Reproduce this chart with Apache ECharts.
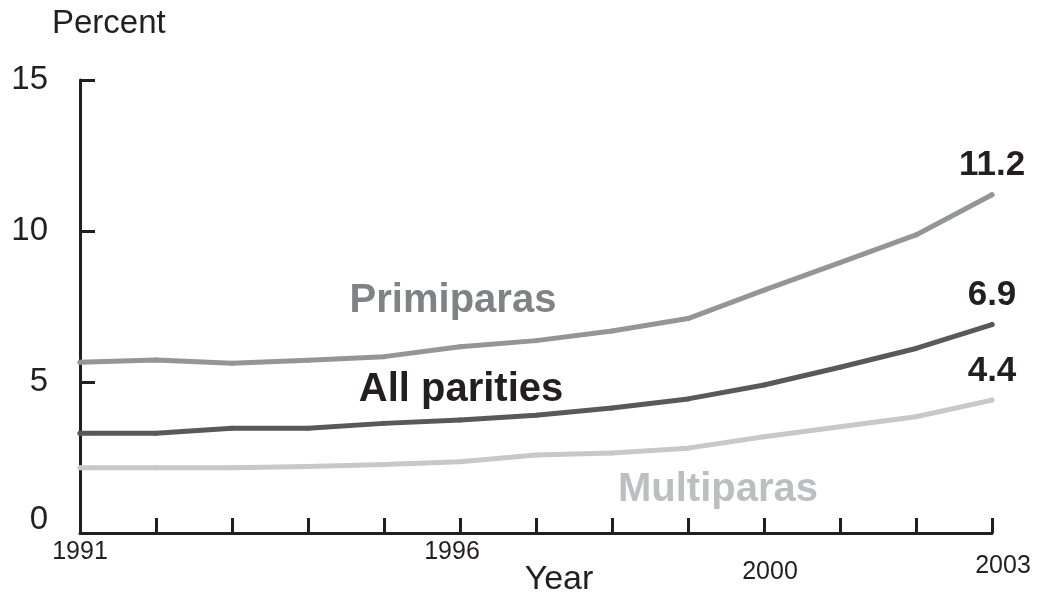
<!DOCTYPE html>
<html>
<head>
<meta charset="utf-8">
<script src="https://cdn.jsdelivr.net/npm/echarts@6/dist/echarts.min.js"></script>
<style>
  html, body { margin: 0; padding: 0; background: #fff; }
  #chart { width: 1053px; height: 598px; }
</style>
</head>
<body>
<div id="chart"></div>
<script>
const years = ["1991", "1992", "1993", "1994", "1995", "1996", "1997", "1998", "1999", "2000", "2001", "2002", "2003"];
const shownYears = ["1991", "1996", "2000", "2003"];
const primiparas = [5.65, 5.73, 5.62, 5.72, 5.84, 6.17, 6.37, 6.69, 7.1, 8.04, 8.95, 9.87, 11.2];
const allParities = [3.3, 3.3, 3.47, 3.47, 3.63, 3.74, 3.9, 4.14, 4.44, 4.9, 5.49, 6.11, 6.9];
const multiparas = [2.16, 2.16, 2.16, 2.2, 2.27, 2.36, 2.58, 2.65, 2.81, 3.19, 3.52, 3.85, 4.4];

const FONT = "Liberation Sans, Arial, Helvetica, sans-serif";
const INK = "#231f20";

// only the last point shows its value, bold, above the line end
function endLabel() {
  return {
    show: true,
    position: "top",
    distance: 9,
    fontFamily: FONT,
    fontSize: 35,
    fontWeight: "bold",
    color: INK,
    formatter: p => (p.dataIndex === years.length - 1 ? String(p.value) : "")
  };
}

function lineSeries(name, data, color) {
  return {
    name: name,
    type: "line",
    data: data,
    symbol: "circle",
    symbolSize: 5,
    itemStyle: { color: color },
    lineStyle: { color: color, width: 5, cap: "round", join: "round" },
    label: endLabel()
  };
}

var myChart = echarts.init(document.getElementById("chart"));

myChart.setOption({
  animation: false,
  grid: { left: 80, right: 61, top: 80, bottom: 65 },
  xAxis: {
    type: "category",
    data: years,
    boundaryGap: false,
    axisLine: { lineStyle: { color: INK, width: 3 } },
    axisTick: { inside: true, length: 15, lineStyle: { color: INK, width: 3 }, interval: 0 },
    axisLabel: {
      interval: (idx, val) => shownYears.indexOf(val) >= 0,
      margin: 7,
      fontFamily: FONT,
      fontSize: 25,
      color: INK,
      formatter: function (val) {
        if (val === "1996") return "{a|" + val + "}";
        if (val === "2000") return "{b|" + val + "}";
        if (val === "2003") return "{c|" + val + "}";
        return val;
      },
      rich: {
        a: { fontFamily: FONT, fontSize: 25, color: INK, padding: [0, 16, 0, 0] },
        b: { fontFamily: FONT, fontSize: 25, color: INK, padding: [20, 0, 0, 12] },
        c: { fontFamily: FONT, fontSize: 25, color: INK, padding: [14, 0, 0, 22] }
      }
    },
    splitLine: { show: false }
  },
  yAxis: {
    type: "value",
    min: 0,
    max: 15,
    interval: 5,
    axisLine: { show: true, lineStyle: { color: INK, width: 3 } },
    axisTick: { show: true, inside: true, length: 15, lineStyle: { color: INK, width: 3 } },
    axisLabel: {
      margin: 32,
      fontFamily: FONT,
      fontSize: 33,
      color: INK,
      formatter: function (v) { return v === 0 ? "{z|0}" : String(v); },
      rich: { z: { fontFamily: FONT, fontSize: 33, color: INK, padding: [0, 0, 26, 0] } }
    },
    splitLine: { show: false }
  },
  series: [
    lineSeries("Primiparas", primiparas, "#939598"),
    lineSeries("All parities", allParities, "#58595b"),
    lineSeries("Multiparas", multiparas, "#c7c8ca")
  ],
  graphic: [
    { type: "text", left: 52, top: 7,
      style: { text: "Percent", font: "33px " + FONT, fill: INK } },
    { type: "text", x: 559, y: 580,
      style: { text: "Year", font: "34px " + FONT, fill: INK, align: "center", verticalAlign: "middle" } },
    { type: "text", x: 453, y: 301,
      style: { text: "Primiparas", font: "bold 40px " + FONT, fill: "#808285", align: "center", verticalAlign: "middle" } },
    { type: "text", x: 461, y: 390,
      style: { text: "All parities", font: "bold 40px " + FONT, fill: INK, align: "center", verticalAlign: "middle" } },
    { type: "text", x: 718, y: 490,
      style: { text: "Multiparas", font: "bold 40px " + FONT, fill: "#bcbec0", align: "center", verticalAlign: "middle" } }
  ]
});
</script>
</body>
</html>
